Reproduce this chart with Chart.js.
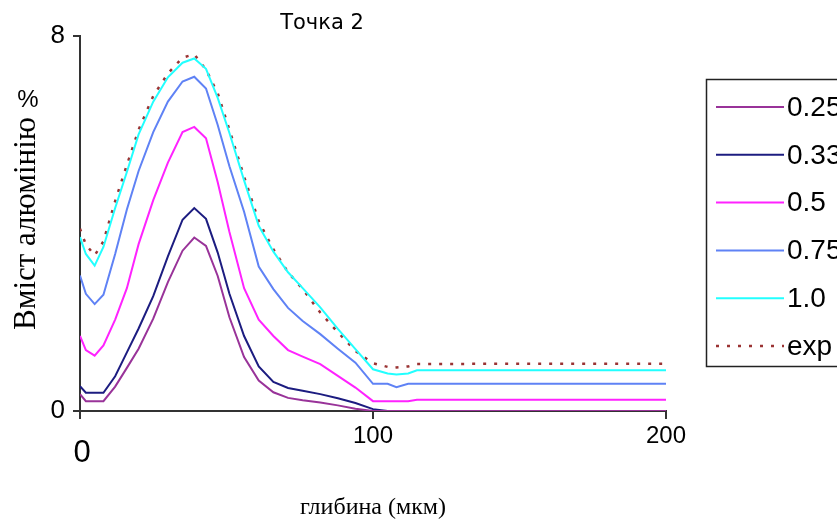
<!DOCTYPE html>
<html>
<head>
<meta charset="utf-8">
<script src="https://cdn.jsdelivr.net/npm/chart.js@4"></script>
<style>
  html, body { margin: 0; padding: 0; background: #fff; overflow: hidden; }
  canvas { display: block; }
</style>
</head>
<body>
<canvas id="c" width="837" height="522"></canvas>
<script>
// Точка 2 — Al content vs depth, model curves for several coefficients + experiment

const depth = [0, 2, 5, 8, 12, 16, 20, 25, 30, 35, 39, 43, 47, 51, 56, 61, 66, 71, 76, 82, 88, 94, 100, 105, 108, 112, 115, 150, 200];

const k025 = [0.36, 0.21, 0.21, 0.21, 0.52, 0.92, 1.33, 1.97, 2.75, 3.42, 3.70, 3.52, 2.88, 2.00, 1.15, 0.65, 0.40, 0.28, 0.23, 0.18, 0.12, 0.05, 0, 0, 0, 0, 0, 0, 0];
const k033 = [0.53, 0.39, 0.39, 0.39, 0.74, 1.25, 1.76, 2.45, 3.30, 4.08, 4.33, 4.10, 3.38, 2.50, 1.60, 0.95, 0.62, 0.49, 0.43, 0.36, 0.27, 0.17, 0.04, 0, 0, 0, 0, 0, 0];
const k05 = [1.60, 1.30, 1.18, 1.40, 1.95, 2.62, 3.56, 4.50, 5.30, 5.95, 6.06, 5.82, 4.88, 3.82, 2.62, 1.95, 1.60, 1.30, 1.16, 1.00, 0.75, 0.50, 0.21, 0.21, 0.21, 0.21, 0.24, 0.24, 0.24];
const k075 = [2.89, 2.50, 2.28, 2.48, 3.35, 4.30, 5.12, 5.95, 6.60, 7.03, 7.13, 6.88, 6.10, 5.22, 4.25, 3.08, 2.60, 2.20, 1.92, 1.64, 1.33, 1.03, 0.58, 0.58, 0.51, 0.58, 0.58, 0.58, 0.58];
const k10 = [3.71, 3.35, 3.10, 3.50, 4.33, 5.10, 5.90, 6.60, 7.12, 7.43, 7.52, 7.30, 6.68, 5.93, 4.92, 3.95, 3.40, 2.96, 2.62, 2.21, 1.75, 1.32, 0.89, 0.80, 0.78, 0.80, 0.87, 0.87, 0.87];
const expVals = [3.89, 3.55, 3.32, 3.62, 4.48, 5.25, 6.00, 6.72, 7.20, 7.54, 7.61, 7.28, 6.78, 6.00, 5.00, 4.05, 3.45, 2.96, 2.60, 2.10, 1.68, 1.28, 1.02, 0.94, 0.93, 0.95, 1.00, 1.01, 1.01];

const seriesLabels = ['0.25', '0.33', '0.5', '0.75', '1.0', 'exp'];
const xTicks = [0, 100, 200];
const yTicks = [0, 8];

const COLORS = ['#993399', '#1c1c80', '#ff22ff', '#5f82f5', '#22ffff', '#9a3333'];
const AXIS = '#333';
const NARROW = '"Liberation Sans Narrow", "Arial Narrow", sans-serif';
const SANS = '"Liberation Sans", Arial, sans-serif';
const WIDE = '"DejaVu Sans", Verdana, sans-serif';
const SERIF = '"Liberation Serif", "Times New Roman", serif';

const pts = vals => depth.map((d, i) => ({ x: d, y: vals[i] }));

const datasets = [k025, k033, k05, k075, k10, expVals].map((vals, i) => ({
  label: seriesLabels[i],
  data: pts(vals),
  borderColor: COLORS[i],
  borderWidth: i === 5 ? 2.5 : 2,
  borderDash: i === 5 ? [3, 8] : [],
  pointRadius: 0,
  tension: 0,
  fill: false,
}));

// extra text + boxed legend, drawn the way the original sheet lays them out
const decor = {
  id: 'decor',
  afterDraw(chart) {
    const c = chart.ctx;
    c.save();
    c.fillStyle = '#000';
    c.textBaseline = 'middle';
    c.textAlign = 'center';
    c.font = '21px ' + WIDE;
    c.fillText('Точка 2', 322, 24);
    c.font = '24px ' + SANS;
    c.fillText('%', 28, 100);
    // zero of the depth axis sits lower than the other labels
    c.font = '31px ' + NARROW;
    c.fillText('0', chart.scales.x.getPixelForValue(0) + 2, 453);

    // legend box
    c.strokeStyle = '#222';
    c.lineWidth = 1.5;
    c.strokeRect(706.5, 79.5, 160, 287);
    c.textAlign = 'left';
    c.font = '28px ' + NARROW;
    chart.data.datasets.forEach((ds, i) => {
      const y = 107 + i * 47.8;
      c.strokeStyle = ds.borderColor;
      c.lineWidth = ds.borderWidth;
      c.setLineDash(ds.borderDash);
      c.beginPath();
      c.moveTo(716, y);
      c.lineTo(784, y);
      c.stroke();
      c.setLineDash([]);
      c.fillText(ds.label, 787, y + 1);
    });
    c.restore();
  },
};

new Chart(document.getElementById('c'), {
  type: 'line',
  data: { datasets },
  options: {
    responsive: false,
    animation: false,
    layout: { padding: { left: 0, top: 36, right: 171, bottom: 0 } },
    plugins: { legend: { display: false }, tooltip: { enabled: false }, title: { display: false } },
    scales: {
      x: {
        type: 'linear', min: xTicks[0], max: xTicks[xTicks.length - 1],
        afterFit(s) { s.height = 111; },
        afterBuildTicks(s) { s.ticks = xTicks.map(v => ({ value: v })); },
        ticks: { color: '#000', font: { family: SANS, size: 24 }, padding: 3, maxRotation: 0,
          callback: v => (v === 0 ? '' : v) },
        grid: { display: true, drawOnChartArea: false, drawTicks: true, tickLength: 8, color: AXIS, lineWidth: 2 },
        border: { display: true, color: AXIS, width: 2 },
        title: { display: true, text: 'глибина (мкм)', color: '#000', font: { family: SERIF, size: 24 }, padding: 0 },
      },
      y: {
        min: yTicks[0], max: yTicks[yTicks.length - 1],
        afterFit(s) { s.width = 80; },
        afterBuildTicks(s) { s.ticks = yTicks.map(v => ({ value: v })); },
        ticks: { color: '#000', font: { family: SANS, size: 26 }, padding: 8 },
        grid: { display: true, drawOnChartArea: false, drawTicks: true, tickLength: 7, color: AXIS, lineWidth: 2 },
        border: { display: true, color: AXIS, width: 2 },
        title: { display: true, text: 'Вміст алюмінію', color: '#000', font: { family: SERIF, size: 31 }, padding: { top: 8, bottom: 0 } },
      },
    },
  },
  plugins: [decor],
});
</script>
</body>
</html>
